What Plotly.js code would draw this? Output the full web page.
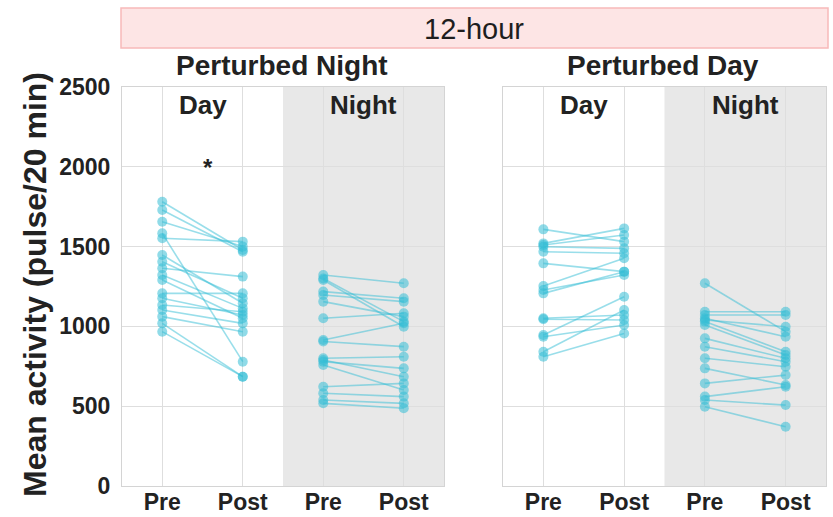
<!DOCTYPE html>
<html>
<head>
<meta charset="utf-8">
<script src="https://cdn.plot.ly/plotly-3.0.1.min.js"></script>
<style>
  html, body { margin: 0; padding: 0; background: #fff; }
  #chart { width: 833px; height: 517px; }
</style>
</head>
<body>
<div id="chart"></div>
<script>
// Mean activity per animal, before (Pre) and after (Post) the 12-hour perturbation.
var tickLabels = ["Pre", "Post", "Pre", "Post"];
var phaseLabels = ["Day", "Night"];
var groupTitles = ["Perturbed Night", "Perturbed Day"];

// Perturbed Night group
var pnDayPre    = [1781, 1729, 1656, 1583, 1552, 1447, 1405, 1364, 1322, 1291, 1207, 1176, 1134, 1103, 1061, 1019, 967];
var pnDayPost   = [1479, 1468, 1500, 779, 1531, 1145, 1176, 1312, 1113, 1051, 1207, 1071, 1092, 1019, 967, 685, 685];
var pnNightPre  = [1322, 1300, 1291, 1218, 1197, 1155, 1051, 915, 905, 800, 790, 779, 758, 622, 581, 539, 518];
var pnNightPost = [1270, 1030, 998, 1176, 1155, 1061, 1082, 1020, 873, 810, 685, 737, 601, 643, 560, 518, 487];

// Perturbed Day group
var pdDayPre    = [1608, 1520, 1510, 1499, 1468, 1395, 1253, 1228, 1207, 1051, 1045, 946, 935, 841, 810];
var pdDayPost   = [1531, 1614, 1573, 1489, 1458, 1343, 1427, 1322, 1343, 1071, 1040, 1186, 1009, 1103, 956];
var pdNightPre  = [1270, 1092, 1071, 1051, 1040, 1030, 1009, 925, 873, 800, 737, 643, 560, 539, 497];
var pdNightPost = [967, 1092, 1071, 935, 998, 841, 821, 800, 779, 747, 633, 695, 622, 507, 371];

var lineColor = "rgba(52,190,214,0.5)";
var markColor = "rgba(52,190,214,0.55)";
var FONT = "Liberation Sans, Arial, sans-serif";
var INK = "#222";

var traces = [];
function addPairs(pre, post, xPre, xaxis, yaxis) {
  for (var i = 0; i < pre.length; i++) {
    traces.push({
      type: "scatter", mode: "lines+markers",
      x: [xPre, xPre + 1], y: [pre[i], post[i]],
      xaxis: xaxis, yaxis: yaxis,
      line: {color: lineColor, width: 1.6},
      marker: {color: markColor, size: 10, line: {width: 0}},
      hoverinfo: "y", showlegend: false
    });
  }
}
addPairs(pnDayPre, pnDayPost, 0, "x", "y");
addPairs(pnNightPre, pnNightPost, 2, "x", "y");
addPairs(pdDayPre, pdDayPost, 0, "x2", "y2");
addPairs(pdNightPre, pdNightPost, 2, "x2", "y2");

var W = 833, H = 517;
function px(v) { return v / W; }
function py(v) { return 1 - v / H; }

var xBase = {
  range: [-0.5, 3.5], tickvals: [0, 1, 2, 3], ticktext: tickLabels,
  showgrid: true, gridcolor: "#dedede", gridwidth: 1,
  showline: true, linecolor: "#d4d4d4", linewidth: 1, mirror: true,
  zeroline: false, ticks: "", fixedrange: true, ticklabelstandoff: -5,
  tickfont: {family: FONT, size: 23, color: INK, weight: "bold"}
};
var yBase = {
  range: [0, 2500], tickvals: [0, 500, 1000, 1500, 2000, 2500],
  showgrid: true, gridcolor: "#dedede", gridwidth: 1,
  showline: true, linecolor: "#d4d4d4", linewidth: 1, mirror: true,
  zeroline: false, ticks: "outside", ticklen: 6, tickcolor: "rgba(0,0,0,0)",
  fixedrange: true,
  tickfont: {family: FONT, size: 23, color: INK, weight: "bold"}
};

var yDom = [py(486), py(87)];
var layout = {
  width: W, height: H,
  margin: {l: 0, r: 0, t: 0, b: 0},
  paper_bgcolor: "#fff", plot_bgcolor: "#fff",
  showlegend: false,
  xaxis: Object.assign({}, xBase, {domain: [px(122), px(444)], anchor: "y"}),
  yaxis: Object.assign({}, yBase, {domain: yDom, anchor: "x"}),
  xaxis2: Object.assign({}, xBase, {domain: [px(503), px(826)], anchor: "y2"}),
  yaxis2: Object.assign({}, yBase, {domain: yDom, anchor: "x2", showticklabels: false}),
  shapes: [
    // night shading in each panel
    {type: "rect", xref: "x", yref: "y domain", x0: 1.5, x1: 3.5, y0: 0, y1: 1,
     fillcolor: "#e8e8e8", line: {width: 0}, layer: "below"},
    {type: "rect", xref: "x2", yref: "y2 domain", x0: 1.5, x1: 3.5, y0: 0, y1: 1,
     fillcolor: "#e8e8e8", line: {width: 0}, layer: "below"},
    // strip header
    {type: "rect", xref: "paper", yref: "paper", x0: px(121), x1: px(828), y0: py(48), y1: py(8),
     fillcolor: "#fde5e5", line: {color: "#f7b9b9", width: 1.5}}
  ],
  annotations: [
    {xref: "paper", yref: "paper", x: px(474), y: py(29), text: "12-hour", showarrow: false,
     font: {family: FONT, size: 29, color: "#1e1e1e"}, xanchor: "center", yanchor: "middle"},
    {xref: "paper", yref: "paper", x: px(282), y: py(66), text: groupTitles[0], showarrow: false,
     font: {family: FONT, size: 28, color: INK, weight: "bold"}, xanchor: "center", yanchor: "middle"},
    {xref: "paper", yref: "paper", x: px(663), y: py(66), text: groupTitles[1], showarrow: false,
     font: {family: FONT, size: 28, color: INK, weight: "bold"}, xanchor: "center", yanchor: "middle"},
    {xref: "paper", yref: "paper", x: px(35), y: py(285), text: "Mean activity (pulse/20 min)",
     textangle: -90, showarrow: false,
     font: {family: FONT, size: 32, color: INK, weight: "bold"}, xanchor: "center", yanchor: "middle"},
    {xref: "x", yref: "paper", x: 0.57, y: py(168), text: "*", showarrow: false,
     font: {family: FONT, size: 24, color: INK, weight: "bold"}, xanchor: "center", yanchor: "middle"}
  ]
};

// Day / Night labels inside each panel
[["x", "y"], ["x2", "y2"]].forEach(function (ax) {
  phaseLabels.forEach(function (lab, k) {
    layout.annotations.push({
      xref: ax[0], yref: "paper", x: 0.5 + 2 * k, y: py(105), text: lab, showarrow: false,
      font: {family: FONT, size: 26, color: INK, weight: "bold"}, xanchor: "center", yanchor: "middle"
    });
  });
});

Plotly.newPlot("chart", traces, layout, {displayModeBar: false, staticPlot: true});
</script>
</body>
</html>
